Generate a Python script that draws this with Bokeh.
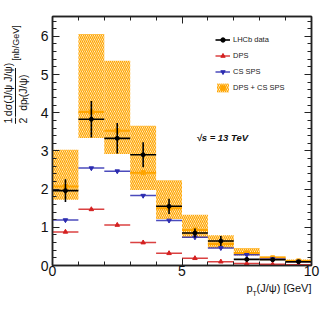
import math
from bokeh.plotting import figure
from bokeh.layouts import row, column
from bokeh.models import (ColumnDataSource, Range1d, SingleIntervalTicker, LinearAxis,
                          Label, Legend, LegendItem, BoxAnnotation, CustomJSTickFormatter)
from bokeh.embed import file_html
from bokeh.resources import INLINE

# ---- data ----
bin_lo = [0, 1, 2, 3, 4, 5, 6, 7, 8, 9]
bin_hi = [1, 2, 3, 4, 5, 6, 7, 8, 9, 10]
bin_mid = [0.5, 1.5, 2.5, 3.5, 4.5, 5.5, 6.5, 7.5, 8.5, 9.5]

lhcb = [1.96, 3.83, 3.33, 2.90, 1.55, 0.85, 0.64, 0.16, 0.15, 0.10]
lhcb_err = [0.30, 0.48, 0.40, 0.33, 0.20, 0.12, 0.13, 0.05, 0.04, 0.03]

dps = [0.88, 1.47, 1.06, 0.60, 0.32, 0.19, 0.10, 0.05, 0.03, 0.02]
cs_sps = [1.19, 2.55, 2.47, 1.83, 1.18, 0.74, 0.46, 0.28, 0.17, 0.10]

tot = [2.07, 4.02, 3.53, 2.43, 1.50, 0.93, 0.56, 0.33, 0.20, 0.12]
tot_lo = [1.72, 3.34, 2.92, 1.98, 1.22, 0.72, 0.45, 0.26, 0.14, 0.07]
tot_hi = [3.03, 6.06, 5.36, 3.66, 2.23, 1.33, 0.79, 0.46, 0.24, 0.16]

FONT = "Liberation Sans"
TOTAL_W, TOTAL_H = 321, 310
YW = 34            # width of the y-title strip
MAIN_H = 281       # height of the main plot
FL, FR, FT, FB = 52, 311, 16, 265   # frame edges in page pixels

src = ColumnDataSource(dict(
    lo=bin_lo, hi=bin_hi, mid=bin_mid,
    y=lhcb, ylo=[a - b for a, b in zip(lhcb, lhcb_err)], yhi=[a + b for a, b in zip(lhcb, lhcb_err)],
    dps=dps, cs=cs_sps, tot=tot, tlo=tot_lo, thi=tot_hi,
))

MW = TOTAL_W - YW
p = figure(width=MW, height=MAIN_H, output_backend="svg", toolbar_location=None,
           x_range=Range1d(0, 10), y_range=Range1d(0, 6.52),
           min_border_left=FL - YW, min_border_right=TOTAL_W - FR, min_border_top=FT,
           min_border_bottom=MAIN_H - FB,
           x_axis_location=None, y_axis_location=None)
p.grid.visible = False
p.outline_line_color = "#222222"
p.outline_line_width = 1.5
p.background_fill_color = "white"
p.border_fill_color = "white"

def style_axis(ax, labels=True):
    ax.major_tick_in = 7
    ax.major_tick_out = 0
    ax.minor_tick_in = 4
    ax.minor_tick_out = 0
    ax.axis_line_color = "#222222"
    ax.axis_line_width = 1.5
    ax.major_tick_line_color = "#222222"
    ax.minor_tick_line_color = "#222222"
    ax.major_tick_line_width = 1
    ax.minor_tick_line_width = 1
    if labels:
        ax.major_label_text_font = FONT
        ax.major_label_text_font_size = "14px"
        ax.major_label_text_color = "#111111"
    else:
        ax.formatter = CustomJSTickFormatter(code="return ''")
        ax.major_label_standoff = 0

xb = LinearAxis(ticker=SingleIntervalTicker(interval=5, num_minor_ticks=5))
style_axis(xb)
xb.major_label_standoff = 0
p.add_layout(xb, "below")
xt = LinearAxis(ticker=SingleIntervalTicker(interval=5, num_minor_ticks=5))
style_axis(xt, labels=False)
p.add_layout(xt, "above")
yl = LinearAxis(ticker=SingleIntervalTicker(interval=1, num_minor_ticks=5))
style_axis(yl)
yl.major_label_standoff = 4
p.add_layout(yl, "left")
yr = LinearAxis(ticker=SingleIntervalTicker(interval=1, num_minor_ticks=5))
style_axis(yr, labels=False)
p.add_layout(yr, "right")

ORANGE = "#ffa500"
RED = "#d42020"
BLUE = "#2c2cb0"

# band DPS + CS SPS
band = p.quad(left="lo", right="hi", bottom="tlo", top="thi", source=src,
              fill_alpha=0, line_alpha=0, hatch_pattern="\\", hatch_color=ORANGE,
              hatch_scale=4, hatch_weight=1.3)
band_line = p.segment(x0="lo", x1="hi", y0="tot", y1="tot", source=src,
                      line_color=ORANGE, line_width=2)
band_mk = p.scatter(x="mid", y="tot", source=src, marker="square", size=4,
                    color=ORANGE)

# DPS
dps_line = p.segment(x0="lo", x1="hi", y0="dps", y1="dps", source=src,
                     line_color=RED, line_width=1.5, line_alpha=0.85)
dps_mk = p.scatter(x="mid", y="dps", source=src, marker="triangle", size=4.5, color=RED)

# CS SPS
cs_line = p.segment(x0="lo", x1="hi", y0="cs", y1="cs", source=src,
                    line_color=BLUE, line_width=1.5, line_alpha=0.85)
cs_mk = p.scatter(x="mid", y="cs", source=src, marker="inverted_triangle", size=4.5, color=BLUE)

# LHCb data
d_h = p.segment(x0="lo", x1="hi", y0="y", y1="y", source=src, line_color="black", line_width=1.6)
d_v = p.segment(x0="mid", x1="mid", y0="ylo", y1="yhi", source=src, line_color="black", line_width=1.6)
d_mk = p.scatter(x="mid", y="y", source=src, marker="circle", size=4, color="black")

legend = Legend(items=[
    LegendItem(label="LHCb data", renderers=[d_h, d_mk]),
    LegendItem(label="DPS", renderers=[dps_line, dps_mk]),
    LegendItem(label="CS SPS", renderers=[cs_line, cs_mk]),
    LegendItem(label="DPS + CS SPS", renderers=[band, band_mk]),
], location=(163, 172), padding=0, margin=0, spacing=5,
    glyph_width=15, glyph_height=11, label_height=11, label_standoff=3,
    label_text_font=FONT, label_text_font_size="7.5px", label_text_color="#222222",
    border_line_alpha=0, background_fill_alpha=0)
p.add_layout(legend)

p.add_layout(Label(x=5.56, y=3.35, text="√s = 13 TeV", text_font=FONT,
                   text_font_size="9.5px", text_font_style="bold italic",
                   text_align="left", text_baseline="middle", text_color="#111111"))

# ---- y-title strip (data units == pixels) ----
yfig = figure(width=YW, height=MAIN_H, output_backend="svg", toolbar_location=None,
              x_range=Range1d(0, YW), y_range=Range1d(0, MAIN_H), min_border=0,
              x_axis_location=None, y_axis_location=None)
yfig.grid.visible = False
yfig.outline_line_color = None

def ylab(text, px, py, size="10.5px", align="left"):
    yfig.add_layout(Label(x=px, y=MAIN_H - py, text=text, angle=math.pi / 2,
                          text_font=FONT, text_font_size=size,
                          text_align=align, text_baseline="middle", text_color="#111111"))

def vbar_line(px, py0, py1):
    yfig.add_layout(BoxAnnotation(left=px - 0.5, right=px + 0.5, bottom=MAIN_H - py1,
                                  top=MAIN_H - py0, fill_color="#111111", fill_alpha=1,
                                  line_alpha=0))

ylab("1", 7.5, 117.5, align="center")
ylab("2", 22, 117.5, align="center")
vbar_line(15, 114, 121)
ylab("dσ(J/ψ J/ψ)", 7.5, 112.5)
ylab("dp", 22, 106.5)
ylab("T", 25, 95, size="7px")
ylab("(J/ψ)", 22, 91)
vbar_line(15, 58, 113)
ylab("[nb/GeV]", 15.5, 30, size="9px", align="center")

# ---- x-title strip ----
XH = TOTAL_H - MAIN_H
xfig = figure(width=TOTAL_W, height=XH, output_backend="svg", toolbar_location=None,
              x_range=Range1d(0, TOTAL_W), y_range=Range1d(0, XH), min_border=0,
              x_axis_location=None, y_axis_location=None)
xfig.grid.visible = False
xfig.outline_line_color = None

def xlab(text, px, py, size="11px", align="right"):
    xfig.add_layout(Label(x=px, y=TOTAL_H - py, text=text, text_font=FONT,
                          text_font_size=size, text_align=align, text_baseline="middle",
                          text_color="#111111"))

xlab("(J/ψ) [GeV]", 311, 287.5)
xlab("T", 256.2, 292.5, size="7px")
xlab("p", 252, 287.5)

layout = column(row(yfig, p), xfig)
open("out.html", "w").write(file_html(layout, INLINE))
